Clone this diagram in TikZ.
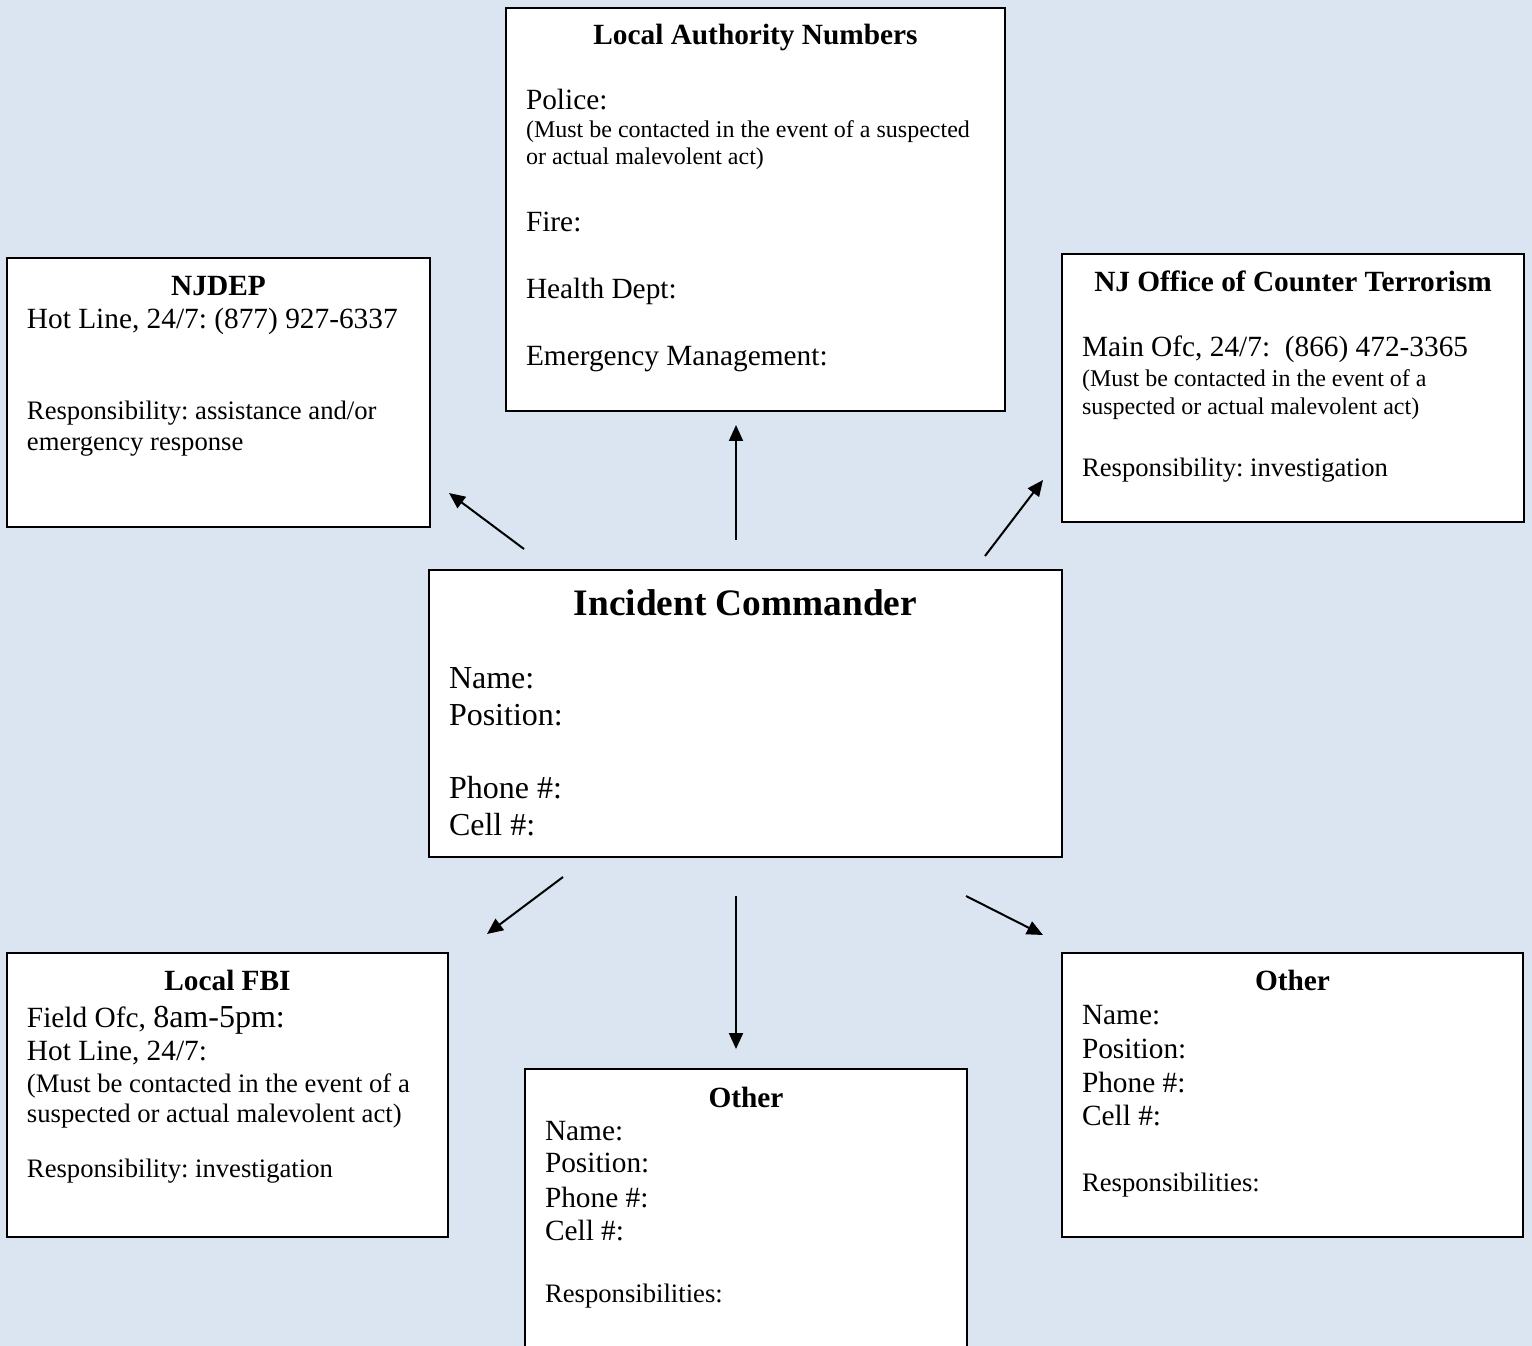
\documentclass[tikz,border=0pt]{standalone}
\usepackage{fontspec}
\setmainfont{Liberation Serif}
\usetikzlibrary{arrows.meta,calc}
\definecolor{sheetblue}{HTML}{DBE5F1}
\frenchspacing
\newlength{\pxlen}
\setlength{\pxlen}{0.375pt} % one pixel of the sheet
\tikzstyle{card}=[draw=black,fill=white,line width=0.75pt,anchor=north west,inner xsep=7.5pt,inner ysep=0pt,outer sep=0pt]
\tikzstyle{callout}=[line width=0.75pt,-{Triangle[length=6pt,width=5.25pt]}]
\newcommand{\fHead}{\fontsize{11pt}{13pt}\bfseries\selectfont}
\newcommand{\fTitle}{\fontsize{14pt}{16pt}\bfseries\selectfont}
\newcommand{\fBody}{\fontsize{11pt}{13pt}\selectfont}
\newcommand{\fBig}{\fontsize{12pt}{14pt}\selectfont}
\newcommand{\fNote}{\fontsize{10pt}{12pt}\selectfont}
\newcommand{\fSmall}{\fontsize{9pt}{11pt}\selectfont}
\newcommand{\cardbody}[3]{% Syntax: {text width}{height}{lines}, in pixels
	\parbox[t][#2\pxlen][t]{#1\pxlen}{\offinterlineskip #3}}
\newcommand{\cardhead}[2]{% Syntax: {drop to baseline}{text}
	\hbox to \linewidth{\hfil\rule{0pt}{#1\pxlen}\smash{#2}\hfil}}
\newcommand{\cardline}[2]{%
	\hbox to \linewidth{\rule{0pt}{#1\pxlen}\smash{#2}\hfil}}

\begin{document}
\begin{tikzpicture}[x=0.375pt,y=-0.375pt]
	\useasboundingbox (0,0) rectangle (1532,1346);
	\clip (0,0) rectangle (1532,1346);
	\fill[sheetblue] (0,0) rectangle (1532,1346);
	% top row
	\node[card] (njdep) at (7,258) {\cardbody{383}{269}{
		\cardhead{38}{\fHead NJDEP}
		\cardline{33}{\fBody Hot Line, 24/7: (877) 927-6337}
		\cardline{91}{\fNote Responsibility: assistance and/or}
		\cardline{31}{\fNote emergency response}}};
	\node[card] (local) at (506,8) {\cardbody{459}{403}{
		\cardhead{37}{\fHead Local Authority Numbers}
		\cardline{65}{\fBody Police:}
		\cardline{28}{\fSmall (Must be contacted in the event of a suspected}
		\cardline{27}{\fSmall or actual malevolent act)}
		\cardline{67}{\fBody Fire:}
		\cardline{67}{\fBody Health Dept:}
		\cardline{67}{\fBody Emergency Management:}}};
	\node[card] (njoct) at (1062,254) {\cardbody{422}{268}{
		\cardhead{38}{\fHead NJ Office of Counter Terrorism}
		\cardline{65}{\fBody Main Ofc, 24/7:~ (866) 472-3365}
		\cardline{30}{\fSmall (Must be contacted in the event of a}
		\cardline{28}{\fSmall suspected or actual malevolent act)}
		\cardline{62}{\fNote Responsibility: investigation}}};
	% commander
	\node[card] (ic) at (429,570) {\cardbody{593}{287}{
		\cardhead{45}{\fTitle Incident Commander}
		\cardline{74}{\fBig Name:}
		\cardline{37}{\fBig Position:}
		\cardline{72}{\fBig Phone \#:}
		\cardline{37}{\fBig Cell \#:}}};
	% bottom row
	\node[card] (fbi) at (7,953) {\cardbody{401}{284}{
		\cardhead{37}{\fHead Local FBI}
		\cardline{37}{\fBody Field Ofc, {\fBig 8am-5pm:}}
		\cardline{33}{\fBody Hot Line, 24/7:}
		\cardline{32}{\fNote (Must be contacted in the event of a}
		\cardline{30}{\fNote suspected or actual malevolent act)}
		\cardline{55}{\fNote Responsibility: investigation}}};
	\node[card] (otherc) at (525,1069) {\cardbody{402}{300}{
		\cardhead{38}{\fHead Other}
		\cardline{33}{\fBody Name:}
		\cardline{32}{\fBody Position:}
		\cardline{35}{\fBody Phone \#:}
		\cardline{33}{\fBody Cell \#:}
		\cardline{62}{\fNote Responsibilities:}}};
	\node[card] (otherr) at (1062,953) {\cardbody{421}{284}{
		\cardhead{37}{\fHead Other}
		\cardline{34}{\fBody Name:}
		\cardline{34}{\fBody Position:}
		\cardline{34}{\fBody Phone \#:}
		\cardline{33}{\fBody Cell \#:}
		\cardline{66}{\fNote Responsibilities:}}};
	% arrows, free at both ends
	\coordinate (njdepTail) at (524,549);
	\coordinate (njdepTip) at (449,493);
	\coordinate (localTail) at (736,540);
	\coordinate (localTip) at (736,425);
	\coordinate (njoctTail) at (985,556);
	\coordinate (njoctTip) at (1043,480);
	\coordinate (fbiTail) at (563,877);
	\coordinate (fbiTip) at (487,934);
	\coordinate (othercTail) at (736,896);
	\coordinate (othercTip) at (736,1049);
	\coordinate (otherrTail) at (966,896);
	\coordinate (otherrTip) at (1043,935);
	\draw[callout] (njdepTail) -- (njdepTip);
	\draw[callout] (localTail) -- (localTip);
	\draw[callout] (njoctTail) -- (njoctTip);
	\draw[callout] (fbiTail) -- (fbiTip);
	\draw[callout] (othercTail) -- (othercTip);
	\draw[callout] (otherrTail) -- (otherrTip);
\end{tikzpicture}
\end{document}
